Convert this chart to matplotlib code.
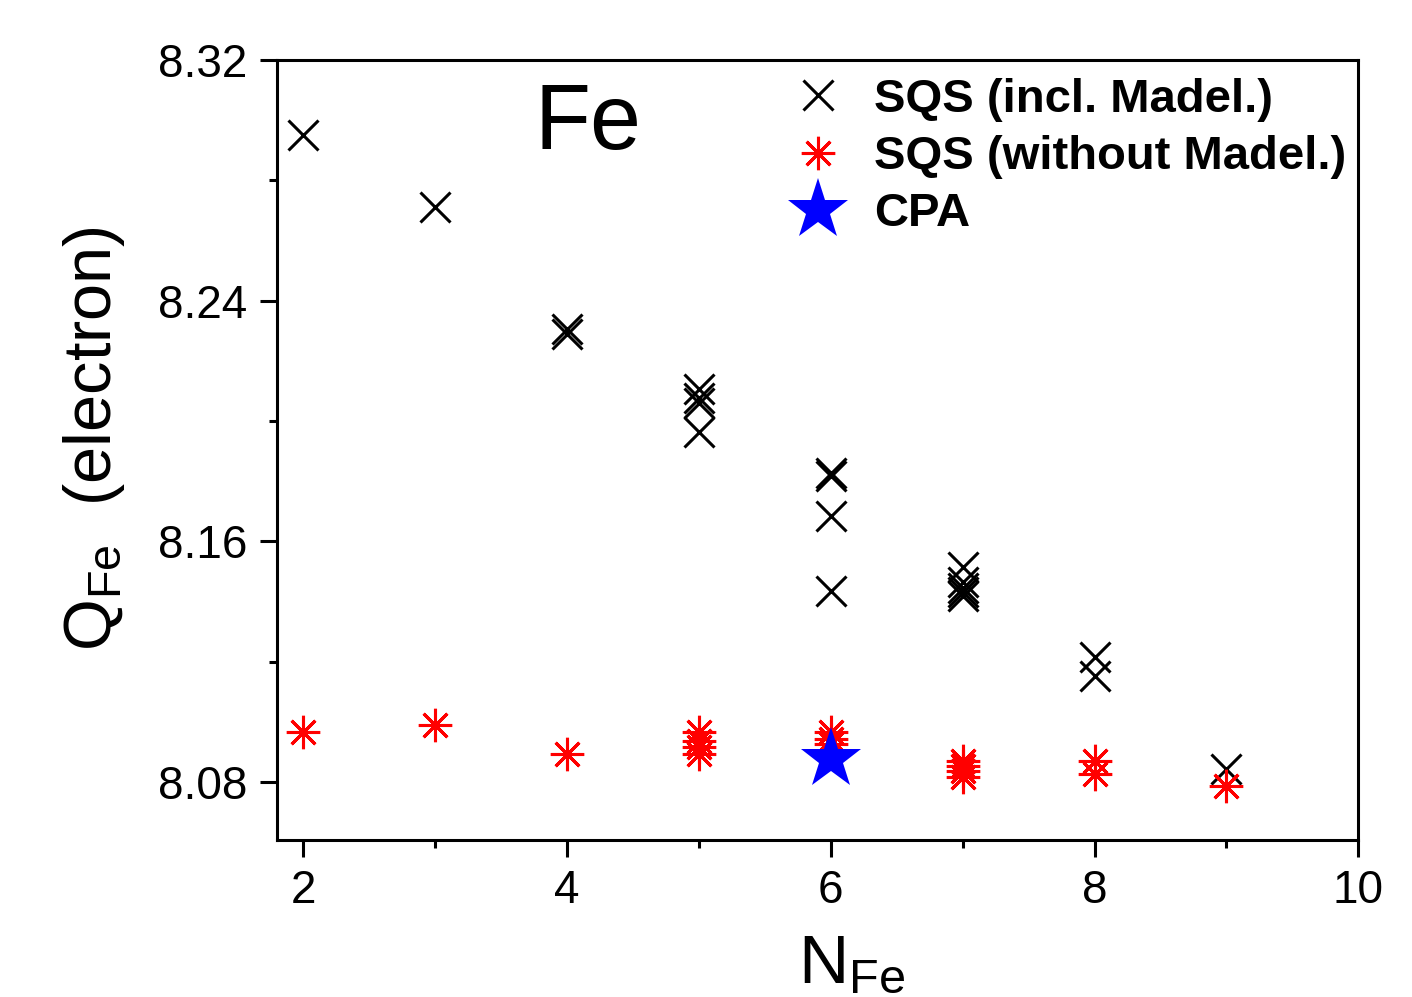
import numpy as np
import matplotlib
matplotlib.use("Agg")
import matplotlib.pyplot as plt

plt.rcParams['font.family'] = ['Liberation Sans', 'DejaVu Sans']
plt.rcParams['mathtext.fontset'] = 'custom'
plt.rcParams['mathtext.rm'] = 'Liberation Sans'
plt.rcParams['mathtext.it'] = 'Liberation Sans'

# SQS including Madelung term
n_incl = [2, 3, 4, 4, 5, 5, 5, 5, 6, 6, 6, 6, 7, 7, 7, 7, 7, 8, 8, 9]
q_incl = [8.295, 8.271, 8.2305, 8.2288, 8.2105, 8.2075, 8.2060, 8.1962,
          8.1828, 8.1818, 8.1683, 8.1434, 8.1513, 8.1466, 8.1445, 8.1430,
          8.1417, 8.1215, 8.1152, 8.0843]

# SQS without Madelung term
n_wo = [2, 3, 4, 5, 5, 5, 5, 6, 6, 6, 7, 7, 7, 7, 8, 8, 9]
q_wo = [8.0966, 8.0989, 8.0893, 8.0966, 8.0936, 8.0916, 8.0893,
        8.0966, 8.0943, 8.0926, 8.0869, 8.0852, 8.0835, 8.0816,
        8.0869, 8.0826, 8.0786]

# CPA
n_cpa = [6]
q_cpa = [8.0876]

fig = plt.figure(figsize=(14.12, 9.97), dpi=100)
ax = fig.add_axes([0.196, 0.1575, 0.766, 0.7823])

ax.plot(n_incl, q_incl, linestyle='none', marker='x', color='black',
        markersize=22, markeredgewidth=2.2, label='SQS (incl. Madel.)')
ax.plot(n_wo, q_wo, linestyle='none', marker=(8, 2, 0), color='red',
        markersize=24, markeredgewidth=2.2, label='SQS (without Madel.)')
ax.plot(n_cpa, q_cpa, linestyle='none', marker='*', color='blue',
        markersize=46, markeredgewidth=0, label='CPA')

ax.set_xlim(1.8, 10)
ax.set_ylim(8.0607, 8.32)
ax.set_xticks([2, 4, 6, 8, 10])
ax.set_xticks([3, 5, 7, 9], minor=True)
ax.set_yticks([8.08, 8.16, 8.24, 8.32])
ax.set_yticks([8.12, 8.20, 8.28], minor=True)
ax.set_yticklabels(['8.08', '8.16', '8.24', '8.32'])

ax.tick_params(which='both', direction='out', top=False, right=False,
               width=2.2, labelsize=33)
ax.tick_params(which='major', length=12, pad=9)
ax.tick_params(which='minor', length=6)
for s in ax.spines.values():
    s.set_linewidth(2.2)

ax.set_xlabel(r'N$_{\mathregular{Fe}}$', fontsize=50)
ax.xaxis.set_label_coords(0.532, -0.12)
ax.set_ylabel(r'Q$_{\mathregular{Fe}}$  (electron)', fontsize=48)
ax.yaxis.set_label_coords(-0.138, 0.515)

ax.text(0.238, 0.917, 'Fe', transform=ax.transAxes, fontsize=66,
        va='center', ha='left')

ax.legend(loc='upper left', bbox_to_anchor=(0.4476, 1.0135), frameon=False,
          prop={'weight': 'bold', 'size': 34}, handlelength=1.2,
          handletextpad=0.6, labelspacing=0.28, borderaxespad=0.2,
          numpoints=1)

fig.savefig('out.png', dpi=100)
